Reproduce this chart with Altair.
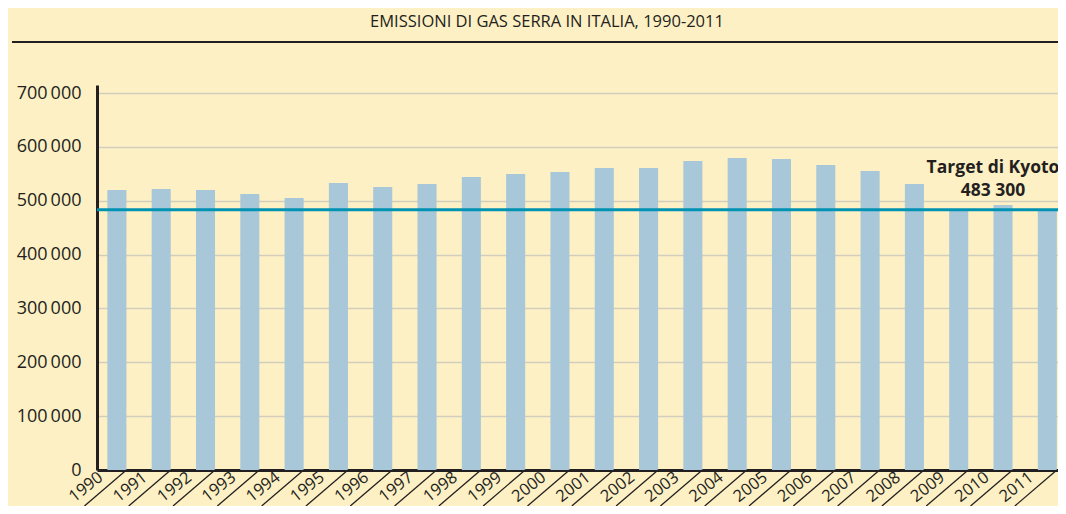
import altair as alt
import pandas as pd

years = [str(y) for y in range(1990, 2012)]
emissions = [519900, 521700, 519900, 512400, 505000, 532900, 525400, 531000,
             544000, 549600, 553300, 560700, 560700, 573700, 579300, 577400,
             566300, 555100, 531000, 480900, 492000, 480900]
target_value = 483300
target_label = "Target di Kyoto\n483 300"
title_text = "EMISSIONI DI GAS SERRA IN ITALIA, 1990-2011"
y_ticks = [0, 100000, 200000, 300000, 400000, 500000, 600000, 700000]

df = pd.DataFrame({"year": years, "value": emissions})
ann = pd.DataFrame({"year": ["2010"], "value": [target_value], "label": [target_label]})
ttl = pd.DataFrame({"t": [title_text]})

W, H = 961, 385
BG = "#FDF0C4"
DARK = "#231F20"
FONT = "Open Sans"

xscale = alt.Scale(paddingInner=0.57, paddingOuter=0.13, align=0.9)
yscale = alt.Scale(domain=[0, 715000], nice=False)

xenc = alt.X("year:O", scale=xscale, title=None,
             axis=alt.Axis(labelAngle=-38, labelAlign="right", labelBaseline="middle",
                           labelOffset=-16, labelPadding=5, ticks=False,
                           domainColor=DARK, domainWidth=3,
                           labelFont=FONT, labelFontSize=16.5, labelColor=DARK))

bars = alt.Chart(df).mark_bar(color="#A8C7D9").encode(
    x=xenc,
    y=alt.Y("value:Q", scale=yscale, title=None,
            axis=alt.Axis(values=y_ticks, ticks=False, labelPadding=16,
                          labelExpr="replace(format(datum.value, ','), ',', '\u2009')",
                          domainColor=DARK, domainWidth=3,
                          gridColor="#D3CDBE", gridWidth=1.5,
                          labelFont=FONT, labelFontSize=18, labelColor=DARK)),
)

diag = alt.Chart(df).mark_rule(color=DARK, strokeWidth=1.3, x2Offset=-42).encode(
    x=alt.X("year:O", bandPosition=1),
    x2=alt.X2("year", bandPosition=1),
    y=alt.value(H),
    y2=alt.value(H + 36),
)

target = alt.Chart(ann).mark_rule(color="#0092B2", strokeWidth=3).encode(
    y=alt.Y("value:Q"),
)

label = alt.Chart(ann).mark_text(
    lineBreak="\n", font=FONT, fontSize=17.5, fontWeight="bold", color=DARK,
    align="center", baseline="bottom", dx=-10, dy=-33, lineHeight=23,
).encode(x=alt.X("year:O"), y=alt.Y("value:Q"), text="label:N")

title = alt.Chart(ttl).mark_text(
    font=FONT, fontSize=16.5, color=DARK, align="center", baseline="middle"
).encode(x=alt.value(450), y=alt.value(-63), text="t:N")

sep = alt.Chart(ttl).mark_rule(color=DARK, strokeWidth=2).encode(
    x=alt.value(-85), x2=alt.value(W), y=alt.value(-43)
)

chart = alt.layer(bars, target, diag, label, title, sep).properties(
    width=W, height=H, background=BG,
    autosize=alt.AutoSizeParams(type="none"),
    padding={"left": 89, "top": 77, "right": 0, "bottom": 36},
).configure_view(stroke=None)

chart.save("out.html", embed_options={"renderer": "svg", "actions": False})
